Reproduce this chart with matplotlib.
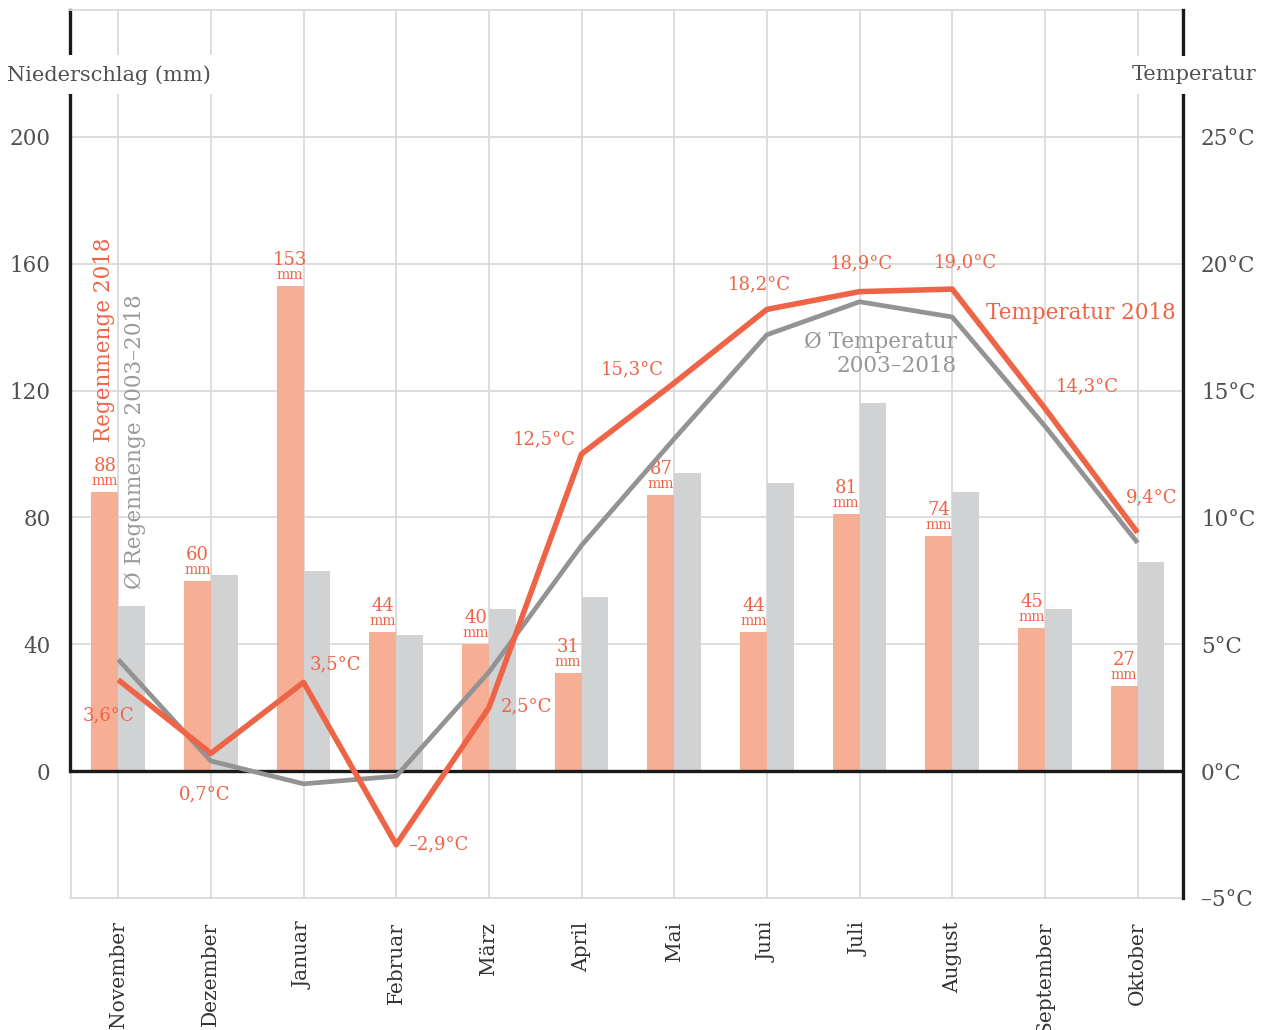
import matplotlib
matplotlib.use("Agg")
import matplotlib.pyplot as plt
import numpy as np

months = ["November", "Dezember", "Januar", "Februar", "März", "April",
          "Mai", "Juni", "Juli", "August", "September", "Oktober"]
rain_2018 = [88, 60, 153, 44, 40, 31, 87, 44, 81, 74, 45, 27]
rain_avg = [52, 62, 63, 43, 51, 55, 94, 91, 116, 88, 51, 66]
temp_2018 = [3.6, 0.7, 3.5, -2.9, 2.5, 12.5, 15.3, 18.2, 18.9, 19.0, 14.3, 9.4]
temp_avg = [4.4, 0.4, -0.5, -0.2, 3.9, 8.9, 13.1, 17.2, 18.5, 17.9, 13.6, 9.0]
rain_ticks = [0, 40, 80, 120, 160, 200]
temp_ticks = [-5, 0, 5, 10, 15, 20, 25]

# label offsets (pixels) for temperature annotations
temp_label_offsets = [(-10, -36), (-6, -41), (32, 18), (42, 0), (38, 1), (-37, 15),
                      (-42, 14), (-8, 25), (2, 28), (13, 27), (42, 22), (14, 35)]

RED = "#EE6446"
ORANGE = "#F6AE94"
LGREY = "#D1D2D4"
GREYLINE = "#939393"
GRID = "#DADADA"
TXT = "#505050"

plt.rcParams['font.family'] = ['DejaVu Serif']

fig = plt.figure(figsize=(12.66, 10.30), dpi=100)
ax = fig.add_axes([70/1266, (1030-898)/1030, (1183-70)/1266, (898-10)/1030])

x = np.arange(len(months))
w = 0.29
ax.bar(x - w/2, rain_2018, width=w, color=ORANGE, zorder=2)
ax.bar(x + w/2, rain_avg, width=w, color=LGREY, zorder=2)

ax.set_xlim(-0.52, 11.49)
ax.set_ylim(-40, 240)
ax.set_yticks(rain_ticks)
ax.set_yticklabels([str(t) for t in rain_ticks], fontsize=15.5, color=TXT)
ax.set_xticks(x)
ax.set_xticklabels(months, rotation=90, fontsize=14.5, color="#333333")
ax.tick_params(axis='both', length=0)
ax.tick_params(axis='y', pad=14)
ax.tick_params(axis='x', pad=17)
ax.grid(True, color=GRID, lw=1.3, zorder=0)
ax.set_axisbelow(True)
ax.axhline(0, color="#1a1a1a", lw=2.4, zorder=3)

for s in ['top', 'bottom']:
    ax.spines[s].set_color(GRID)
    ax.spines[s].set_linewidth(1.3)
ax.spines['right'].set_visible(False)
ax.spines['left'].set_color("#1a1a1a")
ax.spines['left'].set_linewidth(2.4)
ax.spines['left'].set_bounds(0, 240)
ax.axvline(-0.52, ymin=0, ymax=40/280, color=GRID, lw=2.0, zorder=1)

for xi, v in zip(x, rain_2018):
    ax.annotate(str(v), (xi - w/2, v), xytext=(0, 26), textcoords='offset pixels',
                ha='center', va='center', fontsize=13, color=RED)
    ax.annotate("mm", (xi - w/2, v), xytext=(0, 11), textcoords='offset pixels',
                ha='center', va='center', fontsize=10, color=RED)

ax.text(-0.15, 136, "Regenmenge 2018", rotation=90, ha='center', va='center',
        fontsize=15.5, color=RED)
ax.text(0.18, 104, "Ø Regenmenge 2003–2018", rotation=90, ha='center', va='center',
        fontsize=15.5, color="#9a9a9a")

ax2 = ax.twinx()
ax2.set_ylim(-5, 30)
ax2.set_yticks(temp_ticks)
ax2.set_yticklabels([(f"{t}°C" if t >= 0 else f"–{abs(t)}°C") for t in temp_ticks],
                    fontsize=15.5, color=TXT)
ax2.tick_params(axis='y', length=0, pad=13)
for s in ['top', 'bottom', 'left']:
    ax2.spines[s].set_visible(False)
ax2.spines['right'].set_color("#1a1a1a")
ax2.spines['right'].set_linewidth(2.4)

ax2.plot(x, temp_avg, color=GREYLINE, lw=3.4, zorder=3, solid_capstyle='butt')
ax2.plot(x, temp_2018, color=RED, lw=4.0, zorder=4, solid_capstyle='butt')

for xi, t, (dx, dy) in zip(x, temp_2018, temp_label_offsets):
    s = f"{t:.1f}".replace(".", ",").replace("-", "–") + "°C"
    ax2.annotate(s, (xi, t), xytext=(dx, dy), textcoords='offset pixels',
                 ha='center', va='center', fontsize=13, color=RED, zorder=6)

ax2.text(10.39, 18.06, "Temperatur 2018", ha='center', va='center', fontsize=15.5,
         color=RED, zorder=6)
ax2.text(9.05, 16.45, "Ø Temperatur\n2003–2018", ha='right', va='center', fontsize=15.5,
         color="#969696", multialignment='right', linespacing=1.1, zorder=6)

bb = dict(facecolor='white', edgecolor='none', pad=7)
ax2.text(-0.0566, 0.927, "Niederschlag (mm)", transform=ax2.transAxes, ha='left',
         va='center', fontsize=15, color=TXT, bbox=bb, zorder=10)
ax2.text(1.0656, 0.927, "Temperatur", transform=ax2.transAxes, ha='right',
         va='center', fontsize=15, color=TXT, bbox=bb, zorder=10)

fig.savefig("out.png", dpi=100)
